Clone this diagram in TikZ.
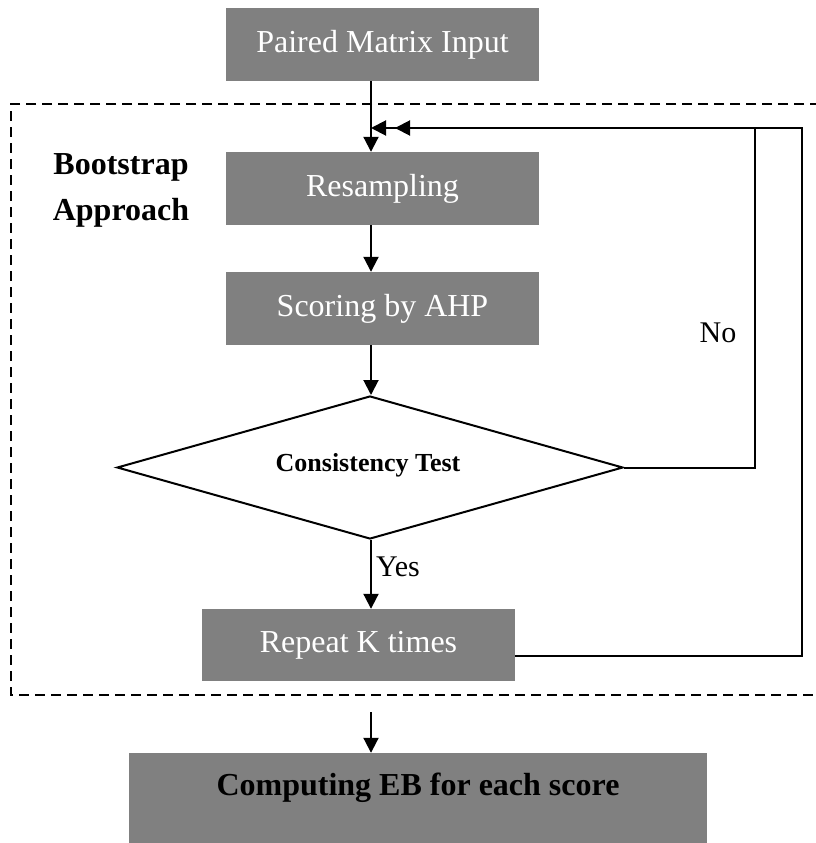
\documentclass[tikz,border=0pt]{standalone}
\usepackage{fontspec}
\setmainfont{Liberation Serif}
\usetikzlibrary{arrows.meta,shapes.geometric}
\definecolor{boxgray}{HTML}{808080}
\tikzset{
  procbox/.style={rectangle, fill=boxgray, draw=none, inner sep=0pt,
    text=white, font=\fontsize{32}{38}\selectfont},
  flow/.style={line width=2pt, -{Triangle[length=15pt,width=15pt]}},
  plain/.style={line width=2pt},
  frame/.style={line width=1.8pt, dash pattern=on 10pt off 6pt},
  lbl/.style={inner sep=0pt, font=\fontsize{30}{36}\selectfont},
}
\begin{document}
\begin{tikzpicture}[x=1pt, y=-1pt]
\useasboundingbox (0,0) rectangle (816,843);

% dashed bootstrap frame (open at the right edge)
\draw[frame] (820,104) -- (11,104) -- (11,695) -- (820,695);

% process boxes
\node[procbox, minimum width=313pt, minimum height=73pt] (pmi) at (382.5,44.5) {Paired Matrix Input};
\node[procbox, minimum width=313pt, minimum height=73pt] (res) at (382.5,188.5) {Resampling};
\node[procbox, minimum width=313pt, minimum height=73pt] (ahp) at (382.5,308.5) {Scoring by AHP};
\node[diamond, draw, line width=2pt, fill=white, minimum width=506pt, minimum height=143pt,
      inner sep=0pt, aspect=3.5] (ct) at (370,467.5) {};
\node[inner sep=0pt, font=\fontsize{26}{30}\selectfont\bfseries] (cttext) at (368,465) {Consistency Test};
\node[procbox, minimum width=313pt, minimum height=72pt] (rep) at (358.5,645) {Repeat K times};
\node[procbox, minimum width=578pt, minimum height=90pt] (eb) at (418,798) {};
\node[inner sep=0pt, font=\fontsize{32}{38}\selectfont\bfseries] (ebtext) at (418,788) {Computing EB for each score};

% side label
\node[inner sep=0pt, align=center, font=\fontsize{32}{46}\selectfont\bfseries] (boot) at (121,190) {Bootstrap\\Approach};

% branch labels
\node[lbl, anchor=west] (yes) at (376,567) {Yes};
\node[lbl] (no) at (718,333) {No};

% helper coordinates for the main column and the feedback loops
\coordinate (ax) at (371,0);
\coordinate (fbin) at (371,128);
\coordinate (fbin2) at (395,128);
\coordinate (ebin) at (371,712);

% main column
\draw[flow] (pmi.south -| ax) -- (res.north -| ax);
\draw[flow] (res.south -| ax) -- (ahp.north -| ax);
\draw[flow] (ahp.south -| ax) -- (ct.north -| ax);
\draw[flow] (ct.south -| ax) -- (rep.north -| ax);
\draw[flow] (ebin) -- (eb.north -| ax);

% feedback loops
\draw[flow] (ct.east) -- (755,467.5) -- (755,128) -- (fbin);
\draw[flow] (rep.east |- 0,656) -- (802,656) -- (802,128) -- (fbin2);
\end{tikzpicture}
\end{document}
